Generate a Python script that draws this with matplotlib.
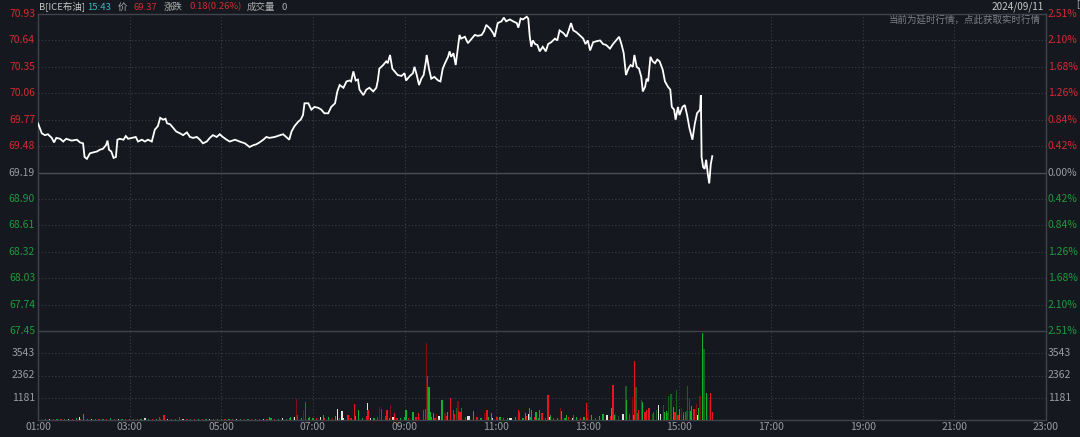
import matplotlib
matplotlib.use('Agg')
import matplotlib.pyplot as plt
from matplotlib.transforms import blended_transform_factory as btf

plt.rcParams['font.family'] = ['Noto Sans CJK SC', 'DejaVu Sans']

# ---------------- data ----------------
price_times = [
    "01:00", "01:05", "01:09", "01:13", "01:18", "01:21", "01:24", "01:29", "01:33", "01:37",
    "01:44", "01:51", "01:55", "01:59", "02:01", "02:04", "02:08", "02:12", "02:17", "02:21",
    "02:25", "02:29", "02:31", "02:33", "02:36", "02:39", "02:42", "02:44", "02:47", "02:52",
    "02:55", "02:58", "03:03", "03:08", "03:11", "03:16", "03:20", "03:24", "03:29", "03:33",
    "03:37", "03:40", "03:44", "03:47", "03:49", "03:53", "03:57", "04:01", "04:06", "04:10",
    "04:15", "04:19", "04:23", "04:28", "04:32", "04:36", "04:41", "04:45", "04:49", "04:54",
    "04:58", "05:02", "05:07", "05:11", "05:18", "05:24", "05:31", "05:37", "05:42", "05:46",
    "05:50", "05:55", "05:59", "06:03", "06:10", "06:17", "06:21", "06:25", "06:29", "06:32",
    "06:36", "06:41", "06:44", "06:47", "06:49", "06:54", "06:58", "07:02", "07:07", "07:11",
    "07:15", "07:20", "07:24", "07:29", "07:32", "07:35", "07:40", "07:44", "07:48", "07:50",
    "07:53", "07:56", "07:59", "08:01", "08:06", "08:10", "08:14", "08:19", "08:23", "08:25",
    "08:27", "08:32", "08:36", "08:38", "08:41", "08:44", "08:47", "08:51", "08:56", "09:00",
    "09:02", "09:07", "09:11", "09:13", "09:16", "09:19", "09:22", "09:25", "09:28", "09:29",
    "09:32", "09:35", "09:39", "09:44", "09:47", "09:50", "09:53", "09:57", "09:59", "10:01",
    "10:04", "10:07", "10:10", "10:12", "10:14", "10:19", "10:23", "10:28", "10:32", "10:36",
    "10:41", "10:44", "10:47", "10:52", "10:56", "10:58", "11:02", "11:07", "11:10", "11:13",
    "11:18", "11:22", "11:27", "11:29", "11:32", "11:35", "11:40", "11:42", "11:44", "11:46",
    "11:48", "11:51", "11:54", "11:57", "12:01", "12:05", "12:08", "12:12", "12:17", "12:20",
    "12:23", "12:28", "12:32", "12:35", "12:38", "12:41", "12:45", "12:49", "12:54", "12:57",
    "13:00", "13:03", "13:07", "13:11", "13:16", "13:20", "13:24", "13:29", "13:33", "13:37",
    "13:41", "13:44", "13:47", "13:50", "13:53", "13:56", "13:59", "14:01", "14:04", "14:07",
    "14:10", "14:12", "14:15", "14:17", "14:19", "14:22", "14:25", "14:28", "14:31", "14:34",
    "14:38", "14:41", "14:45", "14:48", "14:50", "14:53", "14:55", "14:58", "15:00", "15:04",
    "15:07", "15:10", "15:13", "15:17", "15:20", "15:23", "15:27", "15:28", "15:29", "15:31",
    "15:33", "15:35", "15:37", "15:39", "15:41", "15:43",
]
price_values = [
    69.73, 69.62, 69.60, 69.61, 69.57, 69.52, 69.57, 69.56, 69.53, 69.56,
    69.54, 69.55, 69.52, 69.51, 69.36, 69.34, 69.40, 69.41, 69.42, 69.44,
    69.45, 69.49, 69.54, 69.44, 69.42, 69.35, 69.36, 69.55, 69.56, 69.55,
    69.59, 69.56, 69.57, 69.58, 69.53, 69.55, 69.53, 69.55, 69.53, 69.66,
    69.70, 69.79, 69.77, 69.78, 69.73, 69.72, 69.68, 69.64, 69.62, 69.60,
    69.63, 69.58, 69.57, 69.58, 69.55, 69.51, 69.53, 69.57, 69.60, 69.58,
    69.61, 69.58, 69.55, 69.53, 69.55, 69.53, 69.51, 69.47, 69.49, 69.50,
    69.52, 69.55, 69.58, 69.57, 69.58, 69.60, 69.61, 69.58, 69.55, 69.64,
    69.70, 69.75, 69.77, 69.82, 69.95, 69.95, 69.88, 69.91, 69.90, 69.88,
    69.84, 69.84, 69.91, 69.95, 70.08, 70.15, 70.12, 70.19, 70.20, 70.19,
    70.30, 70.20, 70.21, 70.10, 70.04, 70.10, 70.12, 70.08, 70.12, 70.20,
    70.33, 70.37, 70.41, 70.39, 70.48, 70.33, 70.30, 70.26, 70.25, 70.28,
    70.20, 70.25, 70.28, 70.35, 70.26, 70.15, 70.22, 70.26, 70.41, 70.48,
    70.33, 70.22, 70.24, 70.20, 70.19, 70.33, 70.39, 70.46, 70.52, 70.46,
    70.50, 70.37, 70.57, 70.70, 70.66, 70.68, 70.61, 70.66, 70.70, 70.69,
    70.70, 70.74, 70.81, 70.77, 70.72, 70.68, 70.83, 70.85, 70.89, 70.85,
    70.87, 70.85, 70.83, 70.78, 70.88, 70.87, 70.90, 70.88, 70.68, 70.57,
    70.64, 70.60, 70.59, 70.52, 70.57, 70.52, 70.60, 70.62, 70.66, 70.64,
    70.75, 70.72, 70.68, 70.75, 70.83, 70.75, 70.73, 70.70, 70.66, 70.60,
    70.64, 70.53, 70.62, 70.63, 70.64, 70.60, 70.59, 70.55, 70.60, 70.64,
    70.68, 70.60, 70.50, 70.26, 70.33, 70.37, 70.35, 70.48, 70.35, 70.33,
    70.24, 70.08, 70.13, 70.22, 70.19, 70.46, 70.41, 70.39, 70.43, 70.41,
    70.32, 70.19, 70.13, 70.10, 69.91, 69.88, 69.77, 69.91, 69.82, 69.91,
    69.93, 69.82, 69.68, 69.55, 69.72, 69.84, 69.88, 70.04, 69.36, 69.25,
    69.23, 69.33, 69.18, 69.07, 69.28, 69.37,
]

# small background volume bars, one per 5 minutes from 01:00
base_vol = [
    40, 25, 60, 35, 50, 30, 70, 45, 30, 55, 80, 40,
    30, 60, 45, 35, 70, 50, 40, 90, 35, 55, 45, 60,
    50, 35, 65, 40, 80, 45, 30, 70, 55, 40, 60, 35,
    45, 70, 30, 55, 40, 65, 50, 35, 75, 40, 55, 30,
    60, 40, 50, 70, 35, 45, 65, 30, 55, 40, 75, 50,
    45, 80, 60, 35, 90, 70, 110, 150, 200, 120, 160, 90,
    130, 80, 170, 100, 140, 90, 210, 120, 80, 150, 110, 190,
    160, 100, 220, 130, 90, 180, 140, 200, 110, 170, 130, 90,
    150, 120, 200, 170, 140, 260, 230, 180, 130, 210, 160, 190,
    240, 300, 260, 180, 150, 200, 120, 160, 130, 110, 170, 90,
    100, 140, 80, 120, 90, 160, 110, 130, 200, 150, 180, 120,
    140, 100, 170, 130, 90, 150, 110, 180, 120, 160, 100, 140,
    130, 170, 120, 200, 160, 240, 190, 280, 220, 160, 250, 300,
    280, 350, 260, 400, 320, 300, 380, 340, 420, 360, 300, 450,
    380, 420, 500, 460, 560, 620, 480, 520, 450,
]
base_col = ("grgwrgrgwrgr" "rgwgrgrgrwgr" "grrgwgrgrgwr" "rgwrgrgrgwrg"
            "grgrwgrgrgrw" "rgrgwgrRrgrg" "grwrgRgrwgrg" "rgrwgrgrgwrg"
            "grgrRgrgrwgr" "rrRgrwgrgrgw" "rgrgwgrgrgrg" "grwrgrgrwgrg"
            "rgrgwgrgGrgr" "grgrgGrwgrGr" "grGgrgrRg")

# notable volume bars
vol_times = [
    "01:54", "02:00", "03:39", "03:45", "04:05", "06:03", "06:31", "06:36", "06:39", "06:40",
    "06:48", "06:50", "06:56", "07:14", "07:32", "07:38", "07:46", "07:54", "08:00", "08:11",
    "08:12", "08:27", "08:30", "08:37", "08:42", "08:47", "09:02", "09:11", "09:18", "09:25",
    "09:27", "09:29", "09:30", "09:32", "09:34", "09:38", "09:42", "09:49", "09:53", "09:56",
    "10:00", "10:04", "10:08", "10:10", "10:11", "10:12", "10:13", "10:15", "10:23", "10:30",
    "10:45", "10:48", "10:54", "11:01", "11:18", "11:29", "11:31", "11:38", "11:42", "11:44",
    "11:46", "11:52", "11:57", "12:00", "12:08", "12:11", "12:24", "12:26", "12:32", "12:41",
    "12:58", "13:01", "13:05", "13:20", "13:25", "13:31", "13:33", "13:36", "13:46", "13:50",
    "13:51", "13:59", "14:01", "14:03", "14:06", "14:10", "14:12", "14:17", "14:20", "14:26",
    "14:30", "14:33", "14:39", "14:43", "14:46", "14:49", "14:52", "14:54", "14:56", "14:58",
    "15:00", "15:03", "15:05", "15:08", "15:11", "15:13", "15:16", "15:18", "15:22", "15:24",
    "15:27", "15:30", "15:32", "15:35", "15:37", "15:39", "15:41", "15:43",
]
vol_values = [
    140, 300, 170, 260, 150, 170, 160, 150, 1100, 260,
    555, 950, 170, 260, 610, 485, 260, 830, 555, 900,
    555, 695, 610, 520, 780, 350, 520, 430, 350, 520,
    610, 4075, 2340, 1730, 430, 350, 310, 1040, 350, 430,
    1180, 520, 660, 990, 500, 450, 430, 660, 210, 485,
    380, 520, 350, 170, 120, 555, 430, 350, 300, 660,
    520, 430, 555, 380, 1340, 260, 640, 485, 260, 260,
    900, 555, 260, 300, 260, 660, 1870, 350, 310, 1820,
    1040, 1210, 3150, 1730, 520, 1040, 950, 520, 640, 430,
    520, 780, 780, 485, 1250, 1390, 690, 430, 1600, 260,
    610, 660, 260, 430, 1820, 1130, 730, 610, 870, 260,
    1250, 4600, 3780, 1420, 1250, 1040, 1420, 400,
]
vol_colors = ("wgrrrggwRr" "Rrggwwrrgw" "rRrrRrggrr" "rRrgggRgRg"
              "rrGRrrrrwg" "Rrgrwrrgwg" "gggrrgRggr" "rRggwgrRwG"
              "gRrGrGgrrr" "GwGgGGgrGr" "gRgrGGgrRw" "RgGgRRrr")

price_ticks = [70.93, 70.64, 70.35, 70.06, 69.77, 69.48, 69.19,
               68.90, 68.61, 68.32, 68.03, 67.74, 67.45]
pct_labels = ["2.51%", "2.10%", "1.68%", "1.26%", "0.84%", "0.42%", "0.00%",
              "0.42%", "0.84%", "1.26%", "1.68%", "2.10%", "2.51%"]
vol_ticks = [1181, 2362, 3543]
x_labels = ["01:00", "03:00", "05:00", "07:00", "09:00", "11:00",
            "13:00", "15:00", "17:00", "19:00", "21:00", "23:00"]
prev_close = 69.19

# ---------------- style ----------------
BG = '#15181e'
GRID = '#3a3e46'
AXIS = '#3f434b'
RED = '#d42a33'
GREEN = '#1f9a3e'
GRAY = '#9a9ca0'
vcol = {'r': '#e8141e', 'R': '#7c1014', 'g': '#12b02c', 'G': '#17601f', 'w': '#e2e2e2'}


def tmin(s):
    h, m = s.split(':')
    return (int(h) - 1) * 60 + int(m)


W, H = 1080, 437
fig = plt.figure(figsize=(W / 100, H / 100), dpi=100, facecolor=BG)
L, R = 38 / W, 1046 / W
ax = fig.add_axes([L, (H - 331) / H, R - L, (331 - 14) / H], facecolor=BG)
axv = fig.add_axes([L, (H - 420) / H, R - L, (420 - 331) / H], facecolor=BG)

for a in (ax, axv):
    a.set_xlim(0, 1320)
    a.set_xticks([])
    a.set_yticks([])
    for sp in a.spines.values():
        sp.set_color(AXIS)
        sp.set_linewidth(1.0)
    for h in range(120, 1320, 120):
        a.axvline(h, color=GRID, lw=0.8, ls=(0, (1, 2)), zorder=0)

ax.set_ylim(price_ticks[-1], price_ticks[0])
ax.spines['bottom'].set_visible(False)
axv.set_ylim(0, 4724)

# price gridlines and labels
tl = btf(ax.transAxes, ax.transData)
for v, p in zip(price_ticks, pct_labels):
    if abs(v - prev_close) < 1e-6:
        col = GRAY
        ax.axhline(v, color='#4a4d54', lw=1.0, zorder=1)
    else:
        col = RED if v > prev_close else GREEN
        if v not in (price_ticks[0], price_ticks[-1]):
            ax.axhline(v, color=GRID, lw=0.8, ls=(0, (1, 2)), zorder=0)
    ax.text(-3 / 1008, v, f"{v:.2f}", transform=tl, ha='right', va='center',
            color=col, fontsize=7.5)
    ax.text(1 + 2 / 1008, v, p, transform=tl, ha='left', va='center',
            color=col, fontsize=7.5)

ax.plot([tmin(t) for t in price_times], price_values, color='white', lw=1.3,
        zorder=3, solid_joinstyle='miter')

# volume
tv = btf(axv.transAxes, axv.transData)
for v in vol_ticks:
    axv.axhline(v, color=GRID, lw=0.8, ls=(0, (1, 2)), zorder=0)
    axv.text(-3 / 1008, v, str(v), transform=tv, ha='right', va='center',
             color=GRAY, fontsize=7.5)
    axv.text(1 + 2 / 1008, v, str(v), transform=tv, ha='left', va='center',
             color=GRAY, fontsize=7.5)

bx = [i * 5 for i in range(len(base_vol))]
axv.bar(bx, base_vol, width=1.6, color=[vcol[c] for c in base_col[:len(base_vol)]],
        linewidth=0, zorder=2)
axv.bar([tmin(t) for t in vol_times], vol_values, width=1.6,
        color=[vcol[c] for c in vol_colors[:len(vol_values)]], linewidth=0, zorder=3)

# x labels
for i, lab in enumerate(x_labels):
    fig.text((38 + i * 1008 / 11) / W, 1 - 427 / H, lab, ha='center', va='center',
             color=GRAY, fontsize=7.5)

# header
hy = 1 - 7 / H
HF = 6.8
fig.text(39 / W, hy, "B[ICE布油]", color='#c8c8c8', fontsize=HF, va='center')
fig.text(87 / W, hy, "15:43", color='#3cb8c6', fontsize=HF, va='center')
fig.text(118 / W, hy, "价", color='#b0b0b0', fontsize=HF, va='center')
fig.text(133 / W, hy, "69.37", color=RED, fontsize=HF, va='center')
fig.text(164 / W, hy, "涨跌", color='#b0b0b0', fontsize=HF, va='center')
fig.text(189 / W, hy, "0.18(0.26%)", color=RED, fontsize=HF, va='center')
fig.text(247 / W, hy, "成交量", color='#b0b0b0', fontsize=HF, va='center')
fig.text(281 / W, hy, "0", color='#b0b0b0', fontsize=HF, va='center')
fig.text(1044 / W, hy, "2024/09/11", color='#c8c8c8', fontsize=7.2, va='center', ha='right')
fig.text(1041 / W, 1 - 20 / H, "当前为延时行情，点此获取实时行情", color='#7e8086',
         fontsize=HF, va='center', ha='right')
fig.text(1076 / W, 1 - 4 / H, "[", color='#c8c8c8', fontsize=6, va='center')

fig.savefig('out.png', dpi=100, facecolor=BG)
